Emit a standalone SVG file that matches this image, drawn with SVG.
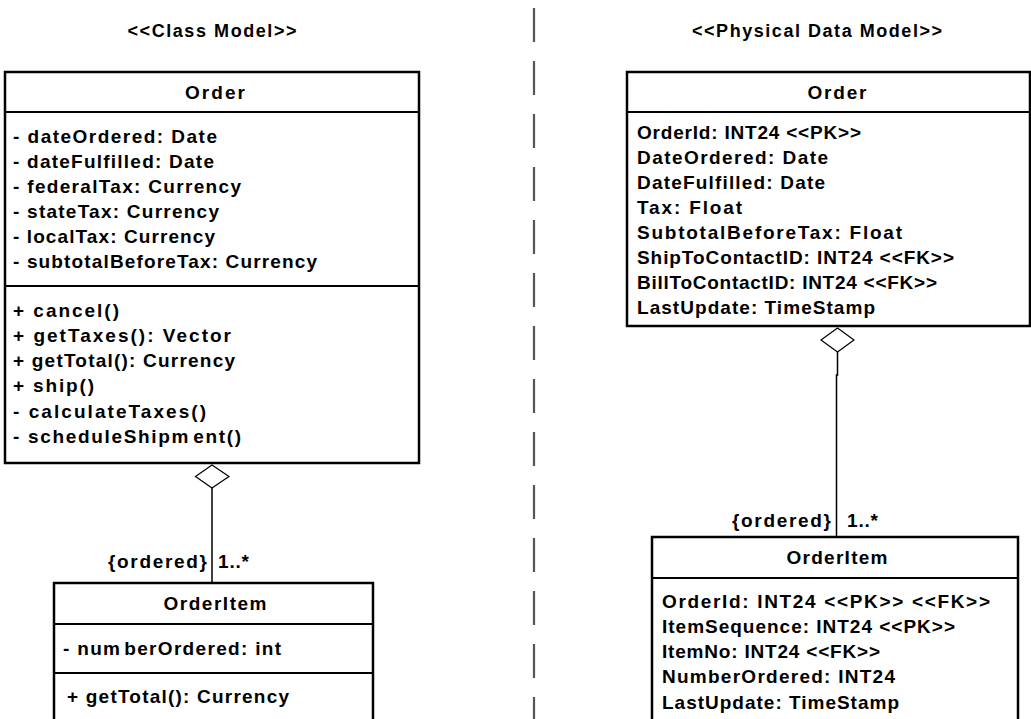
<svg xmlns="http://www.w3.org/2000/svg" width="1031" height="719" viewBox="0 0 1031 719">
  <style>
    text { font-family: "Liberation Sans", Arial, sans-serif; font-weight: bold; font-size: 19px; fill: #000; }
    .title { font-size: 18px; text-anchor: middle; }
    .head { text-anchor: middle; }
    .box { fill: #fff; stroke: #000; stroke-width: 2.5; }
    .sep { stroke: #000; stroke-width: 2; }
    .wire { fill: none; stroke: #000; stroke-width: 1.5; }
    .diamond { fill: #fff; stroke: #000; stroke-width: 1.2; }
    .divider { stroke: #555; stroke-width: 2.2; stroke-dasharray: 34 19; }
  </style>
  <rect width="1031" height="719" fill="#fff"/>

  <!-- model headings and divider -->
  <text class="title" x="212" y="37" textLength="169" lengthAdjust="spacing">&lt;&lt;Class Model&gt;&gt;</text>
  <text class="title" x="817" y="37" textLength="250" lengthAdjust="spacing">&lt;&lt;Physical Data Model&gt;&gt;</text>
  <line class="divider" x1="534" y1="8" x2="534" y2="719"/>

  <!-- class model: Order -->
  <g id="class-order">
    <rect class="box" x="5" y="72" width="414" height="391"/>
    <line class="sep" x1="5" y1="112" x2="419" y2="112"/>
    <line class="sep" x1="5" y1="286" x2="419" y2="286"/>
    <text class="head" x="215" y="99" textLength="60" lengthAdjust="spacing">Order</text>
    <text x="13" y="143" textLength="204" lengthAdjust="spacing">- dateOrdered: Date</text>
    <text x="13" y="168" textLength="201" lengthAdjust="spacing">- dateFulfilled: Date</text>
    <text x="13" y="193" textLength="228" lengthAdjust="spacing">- federalTax: Currency</text>
    <text x="13" y="218" textLength="206" lengthAdjust="spacing">- stateTax: Currency</text>
    <text x="13" y="243" textLength="202" lengthAdjust="spacing">- localTax: Currency</text>
    <text x="13" y="268" textLength="304" lengthAdjust="spacing">- subtotalBeforeTax: Currency</text>
    <text x="13" y="317" textLength="106" lengthAdjust="spacing">+ cancel()</text>
    <text x="13" y="342" textLength="218" lengthAdjust="spacing">+ getTaxes(): Vector</text>
    <text x="13" y="367" textLength="222" lengthAdjust="spacing">+ getTotal(): Currency</text>
    <text x="13" y="392" textLength="81" lengthAdjust="spacing">+ ship()</text>
    <text x="13" y="418" textLength="193" lengthAdjust="spacing">- calculateTaxes()</text>
    <text x="13" y="443" textLength="228" lengthAdjust="spacing">- scheduleShipm<tspan dx="3">ent()</tspan></text>
  </g>

  <!-- class model: OrderItem -->
  <g id="class-orderitem">
    <rect class="box" x="54" y="583" width="319" height="145"/>
    <line class="sep" x1="54" y1="624" x2="373" y2="624"/>
    <line class="sep" x1="54" y1="673" x2="373" y2="673"/>
    <text class="head" x="215" y="610" textLength="103" lengthAdjust="spacing">OrderItem</text>
    <text x="63" y="655" textLength="218" lengthAdjust="spacing">- num<tspan dx="3">berOrdered: int</tspan></text>
    <text x="67" y="703" textLength="222" lengthAdjust="spacing">+ getTotal(): Currency</text>
  </g>

  <!-- physical model: Order table -->
  <g id="table-order">
    <rect class="box" x="627" y="72" width="403" height="254"/>
    <line class="sep" x1="627" y1="112" x2="1030" y2="112"/>
    <text class="head" x="837" y="99" textLength="59" lengthAdjust="spacing">Order</text>
    <text x="637" y="139" textLength="224" lengthAdjust="spacing">OrderId: INT24 &lt;&lt;PK&gt;&gt;</text>
    <text x="637" y="164" textLength="191" lengthAdjust="spacing">DateOrdered: Date</text>
    <text x="637" y="189" textLength="188" lengthAdjust="spacing">DateFulfilled: Date</text>
    <text x="637" y="214" textLength="105" lengthAdjust="spacing">Tax: Float</text>
    <text x="637" y="239" textLength="265" lengthAdjust="spacing">SubtotalBeforeTax: Float</text>
    <text x="637" y="264" textLength="317" lengthAdjust="spacing">ShipToContactID: INT24 &lt;&lt;FK&gt;&gt;</text>
    <text x="637" y="289" textLength="300" lengthAdjust="spacing">BillToContactID: INT24 &lt;&lt;FK&gt;&gt;</text>
    <text x="637" y="314" textLength="238" lengthAdjust="spacing">LastUpdate: TimeStamp</text>
  </g>

  <!-- physical model: OrderItem table -->
  <g id="table-orderitem">
    <rect class="box" x="652" y="537" width="366" height="190"/>
    <line class="sep" x1="652" y1="578" x2="1018" y2="578"/>
    <text class="head" x="837" y="564" textLength="101" lengthAdjust="spacing">OrderItem</text>
    <text x="662" y="608" textLength="328" lengthAdjust="spacing">OrderId: INT24 &lt;&lt;PK&gt;&gt; &lt;&lt;FK&gt;&gt;</text>
    <text x="662" y="633" textLength="293" lengthAdjust="spacing">ItemSequence: INT24 &lt;&lt;PK&gt;&gt;</text>
    <text x="662" y="658" textLength="218" lengthAdjust="spacing">ItemNo: INT24 &lt;&lt;FK&gt;&gt;</text>
    <text x="662" y="683" textLength="233" lengthAdjust="spacing">NumberOrdered: INT24</text>
    <text x="662" y="709" textLength="237" lengthAdjust="spacing">LastUpdate: TimeStamp</text>
  </g>

  <!-- aggregation links with their end labels -->
  <g id="connectors">
    <path class="wire" d="M212 488 V583"/>
    <polygon class="diamond" points="212,465 229,476.5 212,488 195.5,476.5"/>
    <text x="207" y="568" text-anchor="end" textLength="99" lengthAdjust="spacing">{ordered}</text>
    <text x="218" y="568" textLength="31" lengthAdjust="spacing">1..*</text>

    <path class="wire" d="M837.5 352 V375 H836.5 V537"/>
    <polygon class="diamond" points="837.5,328 854,340 837.5,352 821,340"/>
    <text x="831" y="527" text-anchor="end" textLength="99" lengthAdjust="spacing">{ordered}</text>
    <text x="847" y="527" textLength="31" lengthAdjust="spacing">1..*</text>
  </g>
</svg>
